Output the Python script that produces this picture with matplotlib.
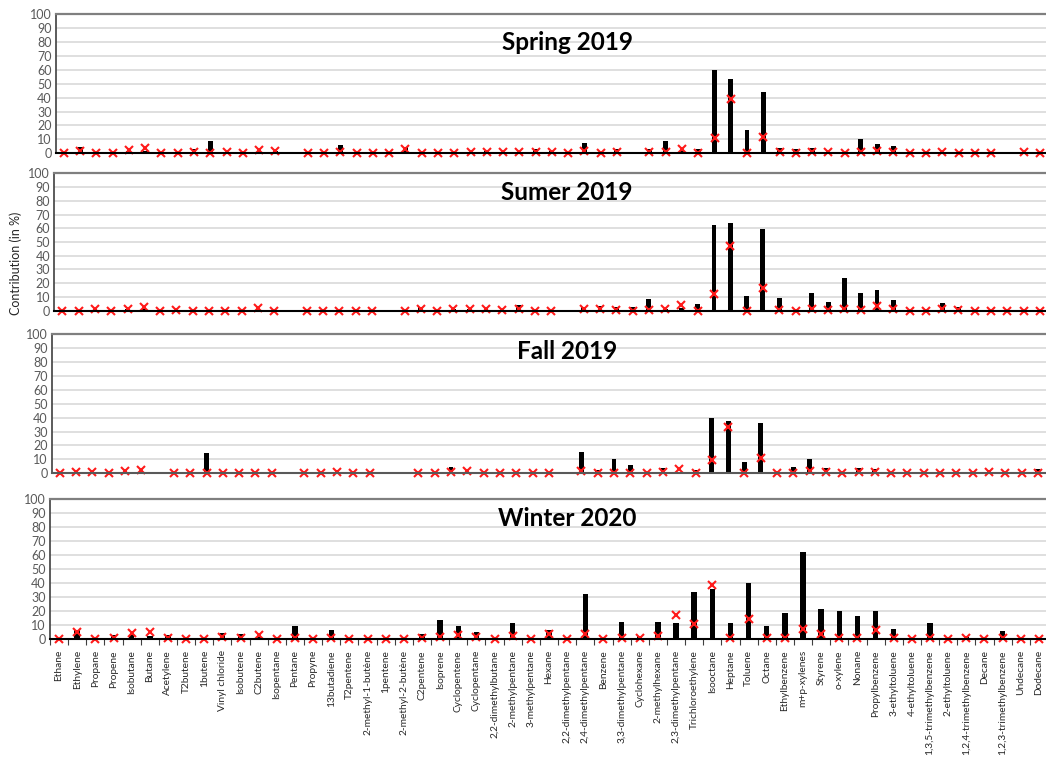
import numpy as np
import matplotlib
matplotlib.use("Agg")
import matplotlib.pyplot as plt
from matplotlib.ticker import MultipleLocator, FixedLocator

nan = np.nan

# ---- data ----
spring_bars = [0, 4.5, 0, 0.5, 1.5, 2, 0, 0, 3, 8.5, 1, 0, 1.5, 1.5, nan, 0, 0, 6, 0, 0,
               0, 4.5, 0, 0, 0, 1, 1.5, 1, 1, 3, 1.5, 0, 7.5, 0.5, 3, nan, 3, 8.5, 2, 3,
               60, 53.5, 16.5, 44, 4, 3, 3.5, 1, 0, 10, 6.5, 5.5, 0, 0, 1, 0.5, 0, 0, nan, 1, 0]
spring_marks = [0, 2, 0, 0.3, 2.5, 4, 0, 0, 1, 0.5, 1, 0, 2.5, 1.5, nan, 0, 0, 1, 0, 0,
                0, 3, 0, 0, 0, 1, 1, 1, 1, 1, 1, 0, 2, 0.5, 1, nan, 1, 1, 3, 0,
                10.8, 39, 0.5, 11.7, 1, 0.5, 1, 1, 0, 1, 2, 1, 0, 0, 1, 0.5, 0, 0, nan, 1, 0]

summer_bars = [0, 0, 1, 0, 1, 1.2, 0, 0.5, 0, 0, 0, 0, 0.5, 0, nan, 0, 0, 0, 0, 0,
               nan, 0, 3, 0, 1, 1, 2, 0, 4, 0, 0, nan, 3, 3.6, 2.7, 2.5, 8.2, 1, 2, 5.2,
               62.4, 63.6, 10.7, 59.7, 9, 0, 12.6, 6.3, 24, 13.1, 15.3, 7.5, 0, 0, 5.3, 2.7, 0, 0, 0, 0, 0]
summer_marks = [0, 0, 1.2, 0, 1.2, 3, 0, 0.5, 0, 0, 0, 0, 2.2, 0, nan, 0, 0, 0, 0, 0,
                nan, 0, 1, 0, 1, 1, 1, 0.5, 1.5, 0, 0, nan, 1, 1, 0.5, 0, 0.5, 1, 4, 0,
                12.1, 47, 0, 16.3, 0.5, 0, 1.2, 0.5, 1.2, 0.5, 3.4, 1, 0, 0, 1, 0.5, 0, 0, 0, 0, 0]

fall_bars = [0, 1, 0, 0, 1, 0, nan, 0, 0, 14.3, 0, 0, 0, 0, nan, 0, 0, 2.6, 0, 0,
             nan, nan, 0, 0, 4.5, 0.5, 0.5, 0, 0, 0, 0, nan, 15.5, 2.6, 10, 6, 0, 4, 0, 2.6,
             39.5, 37.6, 7.9, 36.4, 1.9, 4.8, 10, 3.8, 1, 3.6, 3, 0, 0, 0, 0, 0, 0, 2.6, 0, 0, 3]
fall_marks = [0, 1.2, 1, 0.3, 2, 2.4, nan, 0, 0, 0.5, 0.5, 0.5, 0.5, 0.5, nan, 0.5, 0, 1, 0, 0,
              nan, nan, 0, 0, 1, 1.5, 0.5, 0, 0.5, 0, 0, nan, 1.5, 0.5, 0.5, 0, 0, 1, 2.8, 0.5,
              9.8, 33.5, 0.5, 11, 0.5, 0.5, 2, 1, 0.5, 1, 1, 0, 0, 0.5, 0.5, 0.5, 0, 1, 0, 0, 0.5]

compounds = ["Ethane", "Ethylene", "Propane", "Propene", "Isobutane", "Butane", "Acetylene",
             "T2butene", "1butene", "Vinyl chloride", "Isobutene", "C2butene", "Isopentane",
             "Pentane", "Propyne", "13butadiene", "T2pentene", "2-methyl-1-butène", "1pentene",
             "2-methyl-2-butène", "C2pentene", "Isoprene", "Cyclopentene", "Cyclopentane",
             "2,2-dimethylbutane", "2-methylpentane", "3-methylpentane", "Hexane",
             "2,2-dimethylpentane", "2,4-dimethylpentane", "Benzene", "3,3-dimethylpentane",
             "Cyclohexane", "2-methylhexane", "2,3-dimethylpentane", "Trichloroethylene",
             "Isooctane", "Heptane", "Toluene", "Octane", "Ethylbenzene", "m+p-xylenes",
             "Styrene", "o-xylene", "Nonane", "Propylbenzene", "3-ethyltoluene",
             "4-ethyltoluene", "1,3,5-trimethylbenzene", "2-ethyltoluene",
             "1,2,4-trimethylbenzene", "Decane", "1,2,3-trimethylbenzene", "Undecane", "Dodecane"]
winter_bars = [0, 6.6, 0, 2.9, 2.8, 2.4, 2.6, 0, 0, 4.3, 3.3, 1.4, 0, 9.3, 0, 6.6, 0, 0, 0, 0,
               3.3, 13.3, 9.3, 4.8, 0, 11.2, 0, 6.2, 0, 32, 0, 11.9, 2.4, 11.9, 11.4, 33.5,
               35.6, 11.6, 39.9, 9.3, 18.8, 61.8, 21.4, 20, 16.4, 19.7, 7.4, 0, 11.6, 0, 1.7,
               0, 5.5, 0, 0]
winter_marks = [0, 4.8, 0, 1, 4.5, 5.2, 0.7, 0, 0, 1.7, 1, 2.8, 0, 0.5, 0, 0.7, 0, 0, 0, 0,
                1, 1.7, 3.1, 1.2, 0, 2.4, 0, 3.6, 0, 3.3, 0, 0.7, 0.7, 2.1, 16.9, 10.5,
                38.7, 0.5, 14.3, 0.5, 1, 7.1, 3.3, 1, 1, 6.2, 1, 0, 1, 0, 0.5,
                0, 0.5, 0, 0]

titles = ["Spring 2019", "Sumer 2019", "Fall 2019", "Winter 2020"]

# ---- layout (pixels) ----
W, H = 1046, 765
fig = plt.figure(figsize=(W / 100, H / 100), dpi=100)
plt.rcParams['font.family'] = ['Lato', 'DejaVu Sans']

panels = [
    (55.7, 1048, 153.3, 14.0, 42, spring_bars, spring_marks, None),
    (54.3, 1048, 310.7, 173.3, 193, summer_bars, summer_marks, None),
    (51.7, 1046, 473.3, 334.0, 352, fall_bars, fall_marks, None),
    (50.0, 1048, 639.0, 498.7, 518, winter_bars, winter_marks, compounds),
]

for (l, r, b, t, ty, bars, marks, labels), title in zip(panels, titles):
    ax = fig.add_axes([l / W, 1 - b / H, (r - l) / W, (b - t) / H])
    n = len(bars)
    x = np.arange(n)
    ax.bar(x, np.nan_to_num(np.array(bars, dtype=float)), width=0.3, color='black', zorder=3)
    ax.plot(x, marks, linestyle='none', marker='x', color='#ff1a1a', markersize=5.2,
            markeredgewidth=1.5, clip_on=False, zorder=4)
    ax.set_xlim(-0.5, n - 0.5)
    ax.set_ylim(0, 100)
    ax.yaxis.set_major_locator(MultipleLocator(10))
    ax.grid(axis='y', color='#d9d9d9', linewidth=1.2, zorder=0)
    ax.set_axisbelow(True)
    ax.tick_params(axis='y', length=0, labelsize=9, labelcolor='#595959', pad=3)
    for s in ax.spines.values():
        s.set_zorder(5)
    ax.spines['right'].set_visible(False)
    ax.spines['top'].set_color('#7f7f7f')
    ax.spines['top'].set_linewidth(1.6)
    ax.spines['left'].set_color('#404040')
    ax.spines['left'].set_linewidth(1.2)
    ax.spines['bottom'].set_color('#595959' if title == "Fall 2019" else 'black')
    ax.spines['bottom'].set_linewidth(1.5)
    if labels is None:
        ax.set_xticks([])
    else:
        ax.set_xticks(x)
        ax.set_xticklabels(labels, rotation=90, fontsize=7.3, color='#262626')
        ax.tick_params(axis='x', which='major', length=0, pad=8)
        ax.xaxis.set_minor_locator(FixedLocator(np.arange(-0.5, n, 1.0)))
        ax.tick_params(axis='x', which='minor', length=4, width=0.8, color='#404040',
                       direction='out')
    fig.text(567 / W, 1 - ty / H, title, ha='center', va='center', fontsize=17.5,
             fontweight='bold', color='black')

fig.text(16 / W, 1 - 263 / H, 'Contribution (in %)', rotation=90, ha='center', va='center',
         fontsize=9, color='#262626')

fig.savefig('out.png', dpi=100)
